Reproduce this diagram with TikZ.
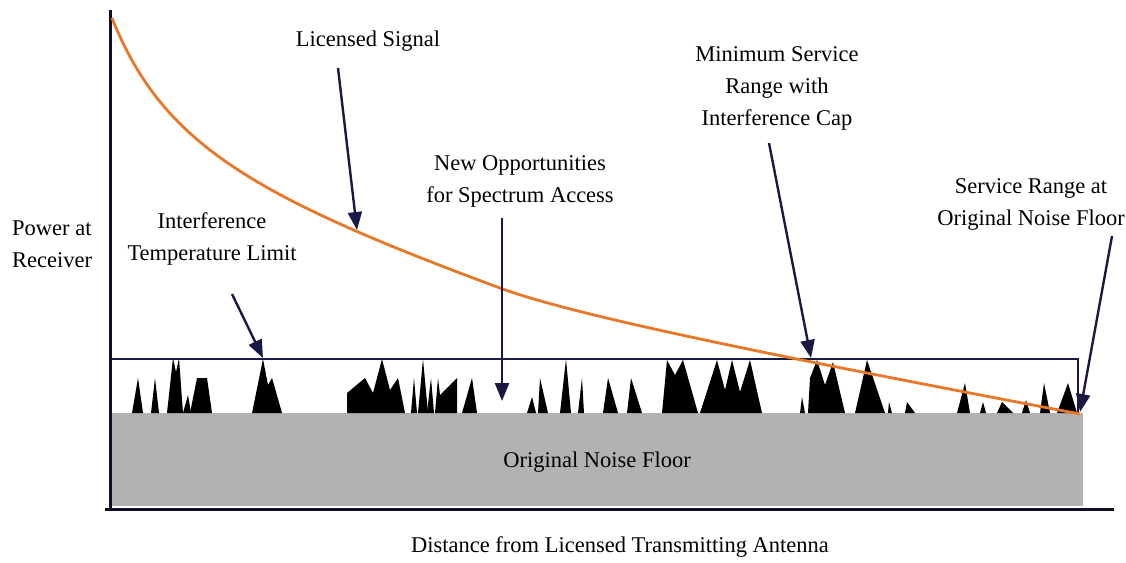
\documentclass[tikz,border=0pt]{standalone}
\usepackage{fontspec}
\setmainfont{Liberation Serif}
\usetikzlibrary{arrows.meta}
\definecolor{navy}{RGB}{25,25,70}
\definecolor{curveor}{RGB}{232,120,40}
\definecolor{floorgray}{RGB}{178,178,178}
\begin{document}
\begin{tikzpicture}[x=1pt,y=-1pt,
  lbl/.style={font=\fontsize{22.5}{32}\selectfont, inner sep=0pt, align=center, text=black},
  pointer/.style={draw=navy, line width=2.4pt, -{Triangle[length=18pt,width=14pt]}},
  spike/.style={fill=black},
  axisline/.style={draw=navy!60!black, line width=3pt},
  capline/.style={draw=navy, line width=1.4pt}]
\useasboundingbox (0,0) rectangle (1126,562);
% noise floor
\fill[floorgray] (110,413) rectangle (1083,506);
\node[lbl] (floor) at (597,462) {Original Noise Floor};
% spikes
\def\B{413}
\fill[spike] (132,\B)--(138,378)--(143,\B)--cycle;
\fill[spike] (151,\B)--(155,378)--(159,\B)--cycle;
\fill[spike] (167,\B)--(173,358)--(176,372)--(179,358)--(183,\B)--cycle;
\fill[spike] (183,\B)--(188,395)--(191,\B)--cycle;
\fill[spike] (190,\B)--(197,378)--(207,378)--(212,\B)--cycle;
\fill[spike] (252,\B)--(263,359)--(268,385)--(272,378)--(282,\B)--cycle;
\fill[spike] (347,\B)--(347,393)--(365,378)--(373,393)--(382,359)--(390,390)--(398,378)--(405,\B)--cycle;
\fill[spike] (411,\B)--(414,378)--(417,\B)--cycle;
\fill[spike] (418,\B)--(423,359)--(428,\B)--cycle;
\fill[spike] (427,\B)--(431,378)--(434,\B)--cycle;
\fill[spike] (435,\B)--(438,378)--(440,395)--(457,378)--(457,\B)--cycle;
\fill[spike] (462,\B)--(472,378)--(477,\B)--cycle;
\fill[spike] (527,\B)--(532,397)--(536,\B)--cycle;
\fill[spike] (538,\B)--(540,378)--(548,\B)--cycle;
\fill[spike] (560,\B)--(566,359)--(571,\B)--cycle;
\fill[spike] (578,\B)--(582,378)--(584,\B)--cycle;
\fill[spike] (603,\B)--(608,378)--(618,\B)--cycle;
\fill[spike] (627,\B)--(631,378)--(642,\B)--cycle;
\fill[spike] (662,\B)--(667,360)--(675,375)--(683,360)--(698,\B)--cycle;
\fill[spike] (700,\B)--(717,360)--(725,390)--(732,360)--(740,392)--(750,360)--(762,\B)--cycle;
\fill[spike] (800,\B)--(802,397)--(805,\B)--cycle;
\fill[spike] (808,\B)--(810,378)--(817,360)--(825,385)--(833,362)--(845,\B)--cycle;
\fill[spike] (855,\B)--(867,360)--(885,\B)--cycle;
\fill[spike] (888,\B)--(889,402)--(892,\B)--cycle;
\fill[spike] (905,\B)--(907,402)--(915,\B)--cycle;
\fill[spike] (957,\B)--(965,383)--(970,\B)--cycle;
\fill[spike] (980,\B)--(983,402)--(986,\B)--cycle;
\fill[spike] (997,\B)--(1002,402)--(1013,\B)--cycle;
\fill[spike] (1022,\B)--(1026,400)--(1030,\B)--cycle;
\fill[spike] (1040,\B)--(1044,383)--(1050,\B)--cycle;
\fill[spike] (1057,\B)--(1068,383)--(1077,\B)--cycle;
% interference cap line
\draw[capline] (110,359) -- (1078,359) -- (1078,413);
% axes
\draw[axisline] (110,10) -- (110,510);
\draw[axisline] (105,509) -- (1114,509);
% licensed signal curve
\coordinate (c0) at (112,18);
\coordinate (c1) at (500,288);
\coordinate (c2) at (1080,414);
\draw[curveor, line width=2.8pt] (c0) .. controls (162,143) and (250,195.5) .. (c1)
  .. controls (575,315.75) and (768.6,354.9) .. (c2);
% labels
\node[lbl] (licsig) at (368,41) {Licensed Signal};
\node[lbl, anchor=west, align=left] (power) at (12,244) {Power at\\Receiver};
\node[lbl] (itl) at (212,239) {Interference\\Temperature Limit};
\node[lbl] (newopp) at (520,181) {New Opportunities\\for Spectrum Access};
\node[lbl] (minserv) at (777,88) {Minimum Service\\Range with\\Interference Cap};
\node[lbl] (servrange) at (1031,204) {Service Range at\\Original Noise Floor};
\node[lbl] (dist) at (620,547) {Distance from Licensed Transmitting Antenna};
% arrow endpoints
\coordinate (ls-a) at (338,68);   \coordinate (ls-b) at (357,230);
\coordinate (itl-a) at (232,294); \coordinate (itl-b) at (263,358);
\coordinate (no-a) at (502,218);  \coordinate (no-b) at (502,401);
\coordinate (ms-a) at (769,143);  \coordinate (ms-b) at (811,358);
\coordinate (sr-a) at (1112,236); \coordinate (sr-b) at (1080,412);
\draw[pointer] (ls-a) -- (ls-b);
\draw[pointer] (itl-a) -- (itl-b);
\draw[pointer] (no-a) -- (no-b);
\draw[pointer] (ms-a) -- (ms-b);
\draw[pointer] (sr-a) -- (sr-b);
\end{tikzpicture}
\end{document}
